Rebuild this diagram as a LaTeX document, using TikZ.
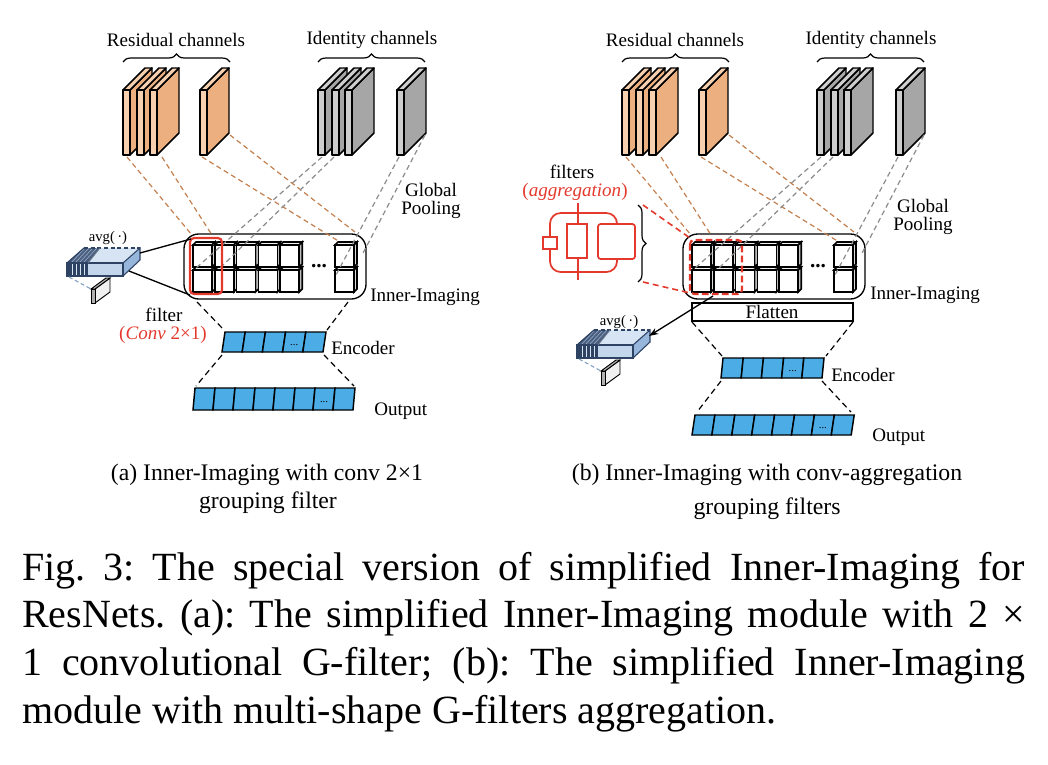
\documentclass[tikz,border=0pt]{standalone}
\usepackage{fontspec}
\setmainfont{Liberation Serif}
\frenchspacing
\usetikzlibrary{decorations.pathreplacing,arrows.meta}
\definecolor{orF}{RGB}{247,208,176}
\definecolor{orS}{RGB}{236,176,128}
\definecolor{grF}{RGB}{206,206,206}
\definecolor{grS}{RGB}{166,166,166}
\definecolor{orL}{RGB}{196,128,78}
\definecolor{grL}{RGB}{140,140,140}
\definecolor{cellB}{RGB}{76,172,230}
\definecolor{redF}{RGB}{228,58,46}
\definecolor{navy}{RGB}{46,66,100}
\definecolor{boxT}{RGB}{214,228,243}
\definecolor{boxF}{RGB}{196,214,236}
\definecolor{boxS}{RGB}{150,182,220}

\newcommand\slab[3]{%
 \filldraw[slabline, fill=#3] (#1+7,90) -- (#1+29,68) -- (#1+29,133) -- (#1+7,155) -- cycle;
 \filldraw[slabline, fill=#2] (#1,90) -- (#1+22,68) -- (#1+29,68) -- (#1+7,90) -- cycle;
 \filldraw[slabline, fill=#2] (#1,90) rectangle (#1+7,155);
}
\newcommand\cube[2]{%
 \filldraw[cubeline, fill=gray!12] (#1,#2) -- (#1+3,#2-3) -- (#1+22,#2-3) -- (#1+19,#2) -- cycle;
 \filldraw[cubeline, fill=gray!30] (#1+19,#2) -- (#1+22,#2-3) -- (#1+22,#2+19) -- (#1+19,#2+22) -- cycle;
 \filldraw[cubeline, fill=white] (#1,#2) rectangle (#1+19,#2+22);
}
\newcommand\cellrow[7]{%
 \foreach \i in {1,...,#4}{%
  \filldraw[cellline] ({#1+(\i-1)*#5+#6},#2) -- ({#1+\i*#5+#6},#2) -- ({#1+\i*#5},#3) -- ({#1+(\i-1)*#5},#3) -- cycle;}
 \node[celldots] at ({#1+(#7-0.5)*#5+#6/2},{(#2+#3)/2+3}) {...};
}
\newcommand\avgbox[2]{%
 \fill[boxT] (#1,#2) -- (#1+17,#2-15) -- (#1+73,#2-15) -- (#1+56,#2) -- cycle;
 \fill[navy!85] (#1,#2) -- (#1+17,#2-15) -- (#1+33,#2-15) -- (#1+21,#2) -- cycle;
 \foreach \s in {4,8,12,16}{\draw[boxS, line width=0.4pt] (#1+\s,#2) -- (#1+\s+14,#2-15);}
 \fill[boxF] (#1,#2) rectangle (#1+56,#2+13);
 \fill[navy] (#1,#2) rectangle (#1+21,#2+13);
 \foreach \s in {5,9,13,17}{\draw[boxT, line width=0.7pt] (#1+\s,#2) -- (#1+\s,#2+13);}
 \filldraw[fill=boxS, draw=navy, line width=0.8pt] (#1+56,#2) -- (#1+73,#2-15) -- (#1+73,#2-3) -- (#1+56,#2+13) -- cycle;
 \draw[navy, line width=0.9pt] (#1,#2) rectangle (#1+56,#2+13);
 \draw[navy, line width=0.9pt] (#1,#2) -- (#1+17,#2-15);
 \draw[navy, line width=0.9pt, dash pattern=on 3pt off 2pt] (#1+17,#2-15) -- (#1+73,#2-15);
 \draw[navy!70, line width=0.6pt] (#1+33,#2-15) -- (#1+21,#2);
 \draw[boxS!80!navy, line width=0.8pt, dash pattern=on 3pt off 2pt] (#1+2,#2+14) -- (#1+24,#2+26);
 \filldraw[fill=gray!12, draw=black, line width=0.7pt] (#1+28,#2+26) -- (#1+43,#2+15) -- (#1+43,#2+29) -- (#1+28,#2+40) -- cycle;
 \filldraw[fill=gray!60, draw=black, line width=0.7pt] (#1+24,#2+26) -- (#1+39,#2+15) -- (#1+43,#2+15) -- (#1+28,#2+26) -- cycle;
 \filldraw[fill=gray!60, draw=black, line width=0.7pt] (#1+24,#2+26) rectangle (#1+28,#2+40);
}
\newcommand\toppart[1]{%
 \draw[braceS] (123,62) -- (230,62);
 \draw[braceS] (318,62) -- (425,62);
 \node[lbl] (#1-reslbl) at (176,40) {Residual channels};
 \node[lbl] (#1-idlbl) at (372,40) {Identity channels};
 \slab{123}{orF}{orS}\slab{137}{orF}{orS}\slab{150}{orF}{orS}\slab{200}{orF}{orS}
 \slab{318}{grF}{grS}\slab{332}{grF}{grS}\slab{345}{grF}{grS}\slab{397}{grF}{grS}
 \draw[rounded corners=11, line width=1pt] (184,234) rectangle (366,299);
 \foreach \cx in {193,214.8,236.6,258.4,280.2,335}{\cube{\cx}{270}\cube{\cx}{245}}
 \node[font=\fontsize{16}{16}\selectfont\bfseries, inner sep=0] (#1-gdots) at (319,266) {...};
 \coordinate (#1-o1) at (127,157); \coordinate (#1-o1e) at (192,235);
 \coordinate (#1-o2) at (162,157); \coordinate (#1-o2e) at (212,235);
 \coordinate (#1-o3) at (202,157); \coordinate (#1-o3e) at (340,242);
 \coordinate (#1-o4) at (230,135); \coordinate (#1-o4e) at (355,232);
 \coordinate (#1-g1) at (322,157); \coordinate (#1-g1e) at (196,268);
 \coordinate (#1-g2) at (334,157); \coordinate (#1-g2e) at (220,268);
 \coordinate (#1-g3) at (399,157); \coordinate (#1-g3e) at (336,275);
 \coordinate (#1-g4) at (425,135); \coordinate (#1-g4e) at (362,255);
 \draw[odash] (#1-o1) -- (#1-o1e); \draw[odash] (#1-o2) -- (#1-o2e);
 \draw[odash] (#1-o3) -- (#1-o3e); \draw[odash] (#1-o4) -- (#1-o4e);
 \draw[gdash] (#1-g1) -- (#1-g1e); \draw[gdash] (#1-g2) -- (#1-g2e);
 \draw[gdash] (#1-g3) -- (#1-g3e); \draw[gdash] (#1-g4) -- (#1-g4e);
}

\begin{document}
\begin{tikzpicture}[x=0.75pt,y=-0.75pt,
  lbl/.style={font=\fontsize{14.3}{17}\selectfont, inner sep=0},
  slabline/.style={draw=black, line width=1.1pt, line join=round},
  cubeline/.style={draw=black, line width=1.2pt},
  odash/.style={draw=orL, line width=0.9pt, dash pattern=on 3.8pt off 2.6pt},
  gdash/.style={draw=grL, line width=0.9pt, dash pattern=on 3.8pt off 2.6pt},
  kdash/.style={draw=black, line width=0.9pt, dash pattern=on 4.5pt off 3pt},
  cellline/.style={fill=cellB, draw=black, line width=1.1pt},
  celldots/.style={font=\fontsize{8}{8}\selectfont, inner sep=0},
  braceS/.style={decorate, decoration={brace, amplitude=6pt}, line width=0.9pt},
  redline/.style={draw=redF, line width=1.3pt}]
\fill[white] (0,0) rectangle (1048,764);
\useasboundingbox (0,0) rectangle (1048,764);

% ================= panel (a) =================
\toppart{a}
\draw[redF, line width=1.6pt, rounded corners=3] (190,238) rectangle (222,294);
\node[lbl, align=center, font=\fontsize{14.3}{14}\selectfont] (a-gp) at (431,201) {Global\\Pooling};
\node[lbl, anchor=west] (a-ii) at (370,297) {Inner-Imaging};
\avgbox{67}{263}
\node[inner sep=0, font=\fontsize{11}{11}\selectfont] (a-avg) at (108,238) {avg(\,·)};
\coordinate (a-bx1) at (140,253); \coordinate (a-bx2) at (129,271);
\coordinate (a-rr1) at (191,239); \coordinate (a-rr2) at (190,295);
\draw[line width=1pt] (a-bx1) -- (a-rr1);
\draw[line width=1pt] (a-bx2) -- (a-rr2);
\node[lbl] (a-filter) at (164,315) {filter};
\node[lbl, text=redF] (a-conv) at (163,335) {(\textit{Conv} 2×1)};
% encoder & output
\cellrow{222}{332}{352}{5}{20.2}{3}{4}
\cellrow{193}{388}{410}{8}{20}{2}{7}
\draw[kdash] (197,302) -- (224,330);
\draw[kdash] (348,302) -- (327,330);
\draw[kdash] (222,355) -- (196,386);
\draw[kdash] (324,355) -- (354,386);
\node[lbl, anchor=west] (a-enc) at (331,348) {Encoder};
\node[lbl, anchor=west] (a-out) at (374,411) {Output};

% ================= panel (b) =================
\begin{scope}[shift={(499,0)}]
\toppart{b}
\end{scope}
\draw[redF, line width=1.6pt, dash pattern=on 5pt off 2.5pt, rounded corners=3] (690,240) rectangle (742,294);
\node[lbl, align=center, font=\fontsize{14.3}{14}\selectfont] (b-gp) at (923,217) {Global\\Pooling};
\node[lbl, anchor=west] (b-ii) at (870,295) {Inner-Imaging};
\draw[line width=1pt] (692,303) rectangle (853,321);
\node[lbl] (b-flat) at (772,312) {Flatten};
% filters aggregation
\node[lbl] (b-filters) at (572,172) {filters};
\node[lbl, text=redF] (b-agg) at (575,192) {(\textit{aggregation})};
\draw[redline, rounded corners=8] (550,213) rectangle (617,272);
\draw[redline] (578,203) -- (578,280);
\filldraw[redline, fill=white] (543,237) rectangle (557,249);
\filldraw[redline, fill=white] (567,224) rectangle (587,258);
\filldraw[redline, fill=white, rounded corners=2] (598,224) rectangle (635,259);
\draw[braceS] (638,205) -- (638,282);
\coordinate (b-bt) at (643,205); \coordinate (b-bb) at (643,282);
\coordinate (b-rt) at (690,238); \coordinate (b-rb) at (690,293);
\draw[redF, line width=1.2pt, dash pattern=on 4.5pt off 3pt] (b-bt) -- (b-rt);
\draw[redF, line width=1.2pt, dash pattern=on 4.5pt off 3pt] (b-bb) -- (b-rb);
% avg box and arrow
\avgbox{577}{345}
\node[inner sep=0, font=\fontsize{11}{11}\selectfont] (b-avg) at (619,322) {avg(\,·)};
\coordinate (b-as) at (713,296); \coordinate (b-ae) at (649,336);
\draw[line width=1pt, -{Stealth[length=7pt,width=5pt]}] (b-as) -- (b-ae);
% encoder & output
\cellrow{721}{358}{378}{5}{20.2}{2}{4}
\cellrow{692}{415}{435}{8}{19.9}{3}{7}
\draw[kdash] (692,322) -- (722,356);
\draw[kdash] (853,322) -- (826,356);
\draw[kdash] (721,381) -- (697,412);
\draw[kdash] (822,381) -- (851,412);
\node[lbl, anchor=west] (b-enc) at (831,375) {Encoder};
\node[lbl, anchor=west] (b-out) at (872,437) {Output};

% ================= captions =================
\node[inner sep=0, anchor=base, font=\fontsize{17.8}{20}\selectfont] (sa1) at (267,480) {(a) Inner-Imaging with conv 2×1};
\node[inner sep=0, anchor=base, font=\fontsize{17.8}{20}\selectfont] (sa2) at (268,508) {grouping filter};
\node[inner sep=0, anchor=base, font=\fontsize{17.8}{20}\selectfont] (sb1) at (767,480) {(b) Inner-Imaging with conv-aggregation};
\node[inner sep=0, anchor=base, font=\fontsize{17.8}{20}\selectfont] (sb2) at (767,514) {grouping filters};

\node[inner sep=0, anchor=base west, font=\fontsize{30}{36}\selectfont] (c1) at (22,580) {\makebox[752pt][s]{Fig. 3: The special version of simplified Inner-Imaging for}};
\node[inner sep=0, anchor=base west, font=\fontsize{30}{36}\selectfont] (c2) at (22,627) {\makebox[752pt][s]{ResNets. (a): The simplified Inner-Imaging module with 2 ×}};
\node[inner sep=0, anchor=base west, font=\fontsize{30}{36}\selectfont] (c3) at (22,675) {\makebox[752pt][s]{1 convolutional G-filter; (b): The simplified Inner-Imaging}};
\node[inner sep=0, anchor=base west, font=\fontsize{30}{36}\selectfont] (c4) at (22,723) {module with multi-shape G-filters aggregation.};
\end{tikzpicture}
\end{document}
